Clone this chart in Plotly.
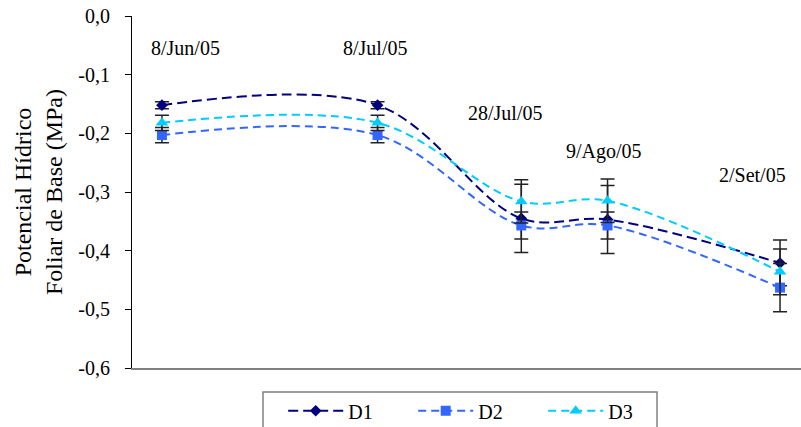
import plotly.graph_objects as go

# Sampling dates
dates = ["2005-06-08", "2005-07-08", "2005-07-28", "2005-08-09", "2005-09-02"]
date_labels = ["8/Jun/05", "8/Jul/05", "28/Jul/05", "9/Ago/05", "2/Set/05"]

# Predawn leaf water potential (MPa) and error bars
d1 = [-0.152, -0.152, -0.345, -0.347, -0.421]
d2 = [-0.203, -0.203, -0.357, -0.357, -0.463]
d3 = [-0.182, -0.182, -0.316, -0.315, -0.436]
d1_err = [0.006, 0.006, 0.058, 0.058, 0.039]
d2_err = [0.013, 0.013, 0.023, 0.023, 0.041]
d3_err = [0.013, 0.013, 0.037, 0.037, 0.039]

# Y axis ticks (plain hyphen as the minus sign)
y_ticks = [0.0, -0.1, -0.2, -0.3, -0.4, -0.5, -0.6]
y_tick_text = ["0,0", "-0,1", "-0,2", "-0,3", "-0,4", "-0,5", "-0,6"]

FONT = "Liberation Serif, Times New Roman, serif"

series = [
    ("D1", d1, d1_err, "#000080", "diamond", 9, "10px,5px"),
    ("D2", d2, d2_err, "#3366FF", "square", 10, "8px,5px"),
    ("D3", d3, d3_err, "#00CCFF", "triangle-up", 11, "8px,5px"),
]

fig = go.Figure()
for name, vals, err, color, symbol, msize, dash in series:
    fig.add_trace(go.Scatter(
        x=dates, y=vals, name=name, mode="lines+markers",
        line=dict(color=color, width=2, dash=dash, shape="spline", smoothing=1),
        marker=dict(symbol=symbol, size=msize, color=color),
        error_y=dict(type="data", array=err, visible=True,
                     color="#222222", thickness=1.5, width=7),
    ))

# Date labels above the points
label_y = [-0.0545, -0.0545, -0.1653, -0.2318, -0.271]
label_shift = [24, -3, -16, -4, -28]
for d, txt, yy, sh in zip(dates, date_labels, label_y, label_shift):
    fig.add_annotation(x=d, y=yy, text=txt, showarrow=False, xshift=sh,
                       font=dict(family=FONT, size=20, color="#000000"))

# Frame around the legend
fig.add_shape(type="rect", xref="paper", yref="paper",
              x0=0.1958, x1=0.7848, y0=-0.068, y1=-0.30,
              line=dict(color="#808080", width=1.5), fillcolor="white",
              layer="below")

fig.update_layout(
    width=801, height=427,
    margin=dict(l=132, r=0, t=16, b=59, autoexpand=False),
    paper_bgcolor="white", plot_bgcolor="white",
    font=dict(family=FONT, size=20, color="#000000"),
    showlegend=True,
    legend=dict(
        orientation="h", x=0.226, y=-0.066, xanchor="left", yanchor="top",
        borderwidth=0, bgcolor="rgba(0,0,0,0)",
        font=dict(family=FONT, size=20),
        itemwidth=55,
        entrywidth=60, entrywidthmode="pixels",
    ),
)

fig.update_xaxes(
    type="date", range=["2005-06-03 20:00", "2005-09-04 22:00"],
    showticklabels=False, ticks="", showgrid=False, zeroline=False,
    showline=True, linecolor="#808080", linewidth=2,
)
fig.update_yaxes(
    range=[-0.6, 0], tickvals=y_ticks, ticktext=y_tick_text,
    ticks="outside", ticklen=6, tickcolor="#000000", tickwidth=1,
    ticklabelstandoff=11,
    showgrid=False, zeroline=False,
    showline=True, linecolor="#000000", linewidth=1,
    tickfont=dict(family=FONT, size=20),
    title=dict(text="Potencial Hídrico<br>Foliar de Base (MPa)",
               font=dict(family=FONT, size=24), standoff=8),
)

fig.write_html("out.html")
